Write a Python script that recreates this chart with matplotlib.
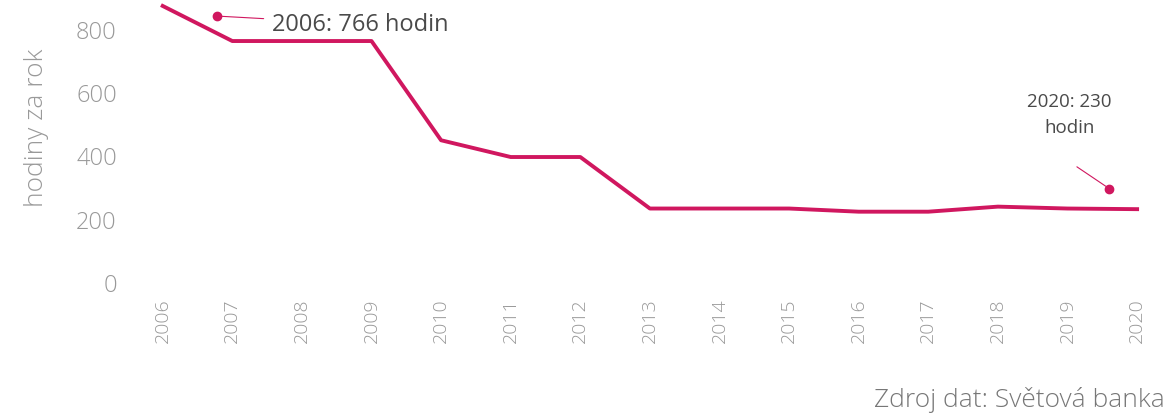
import matplotlib.pyplot as plt

years = list(range(2006, 2021))
hours = [873, 762, 762, 762, 448, 395, 395, 232, 232, 232, 222, 222, 238, 232, 230]
ytick_values = [0, 200, 400, 600, 800]

line_color = '#d0175f'
tick_color = '#999999'
text_color = '#4a4a4a'

plt.rcParams['font.family'] = ['Open Sans', 'DejaVu Sans']

fig = plt.figure(figsize=(11.71, 4.14), dpi=100)
ax = fig.add_axes([0.133, 0.30, 0.844, 0.70])

ax.plot(years, hours, color=line_color, linewidth=2.8, clip_on=False, zorder=3)

ax.set_xlim(2005.9, 2020.1)
ax.set_ylim(-22, 895)
ax.set_xticks(years)
ax.set_xticklabels([str(y) for y in years], rotation=90)
ax.set_yticks(ytick_values)
ax.tick_params(axis='both', length=0, colors=tick_color)
ax.tick_params(axis='y', pad=28, labelsize=17)
ax.tick_params(axis='x', pad=6, labelsize=14)
for lbl in ax.get_xticklabels() + ax.get_yticklabels():
    lbl.set_fontweight('light')
for s in ax.spines.values():
    s.set_visible(False)

ax.set_ylabel('hodiny za rok', color=tick_color, fontsize=19, fontweight='light')
ax.yaxis.set_label_coords(-0.108, 0.56)

# annotations
ax.annotate('2006: 766 hodin', xy=(2006.78, 841), xytext=(2007.57, 816),
            color=text_color, fontsize=17, va='center', ha='left',
            arrowprops=dict(arrowstyle='-', color=line_color, lw=0.8,
                            shrinkA=4, shrinkB=0))
ax.plot([2006.78], [841], 'o', color=line_color, markersize=6, clip_on=False)

ax.text(2019.03, 532, '2020: 230\nhodin', color=text_color, fontsize=13.5,
        va='center', ha='center', linespacing=1.6)
ax.annotate('', xy=(2019.6, 295), xytext=(2019.135, 364),
            arrowprops=dict(arrowstyle='-', color=line_color, lw=0.8,
                            shrinkA=0, shrinkB=3))
ax.plot([2019.6], [295], 'o', color=line_color, markersize=6)

fig.text(0.995, 0.035, 'Zdroj dat: Světová banka', ha='right', va='center',
         color='#777777', fontsize=19, fontweight='light')

fig.savefig('out.png', dpi=100)
